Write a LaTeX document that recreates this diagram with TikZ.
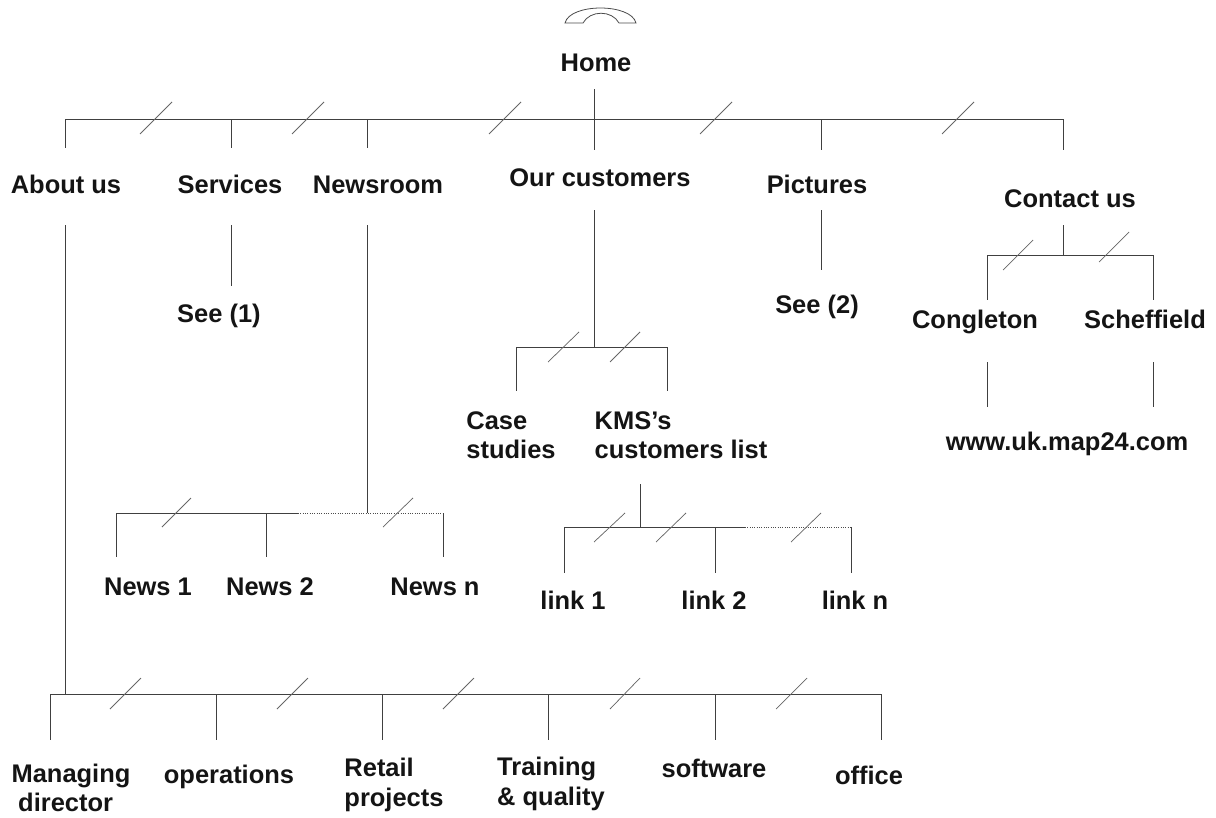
\documentclass[tikz,border=0pt]{standalone}
\usepackage{fontspec}
\setmainfont{Liberation Sans}
\begin{document}
\begin{tikzpicture}[x=0.75pt,y=-0.75pt,
  lbl/.style={font=\fontsize{19.1}{22}\selectfont\bfseries,inner sep=0pt,text=black!92},
  bl/.style={lbl,anchor=base},
  lin/.style={draw=black!75,line width=0.75pt},
  dot/.style={draw=black!70,line width=0.75pt,densely dotted},
  sl/.style={draw=black!60,line width=0.55pt}]
\useasboundingbox (0,0) rectangle (1216,817);
% Phone icon
\draw[draw=black!70,line width=0.6pt,fill=white] (565,23) .. controls (570,3) and (631,3) .. (636,23) -- (619,23) .. controls (612,10) and (590,10) .. (583,23) -- cycle;
% Labels
\node[bl] (home) at (596,71) {Home};
\node[bl] (about) at (66,193) {About us};
\node[bl] (services) at (230,193) {Services};
\node[bl] (newsroom) at (378,193) {Newsroom};
\node[bl] (customers) at (600,186) {Our customers};
\node[bl] (pictures) at (817,193) {Pictures};
\node[bl] (contact) at (1070,207) {Contact us};
\node[bl] (see1) at (219,322) {See (1)};
\node[bl] (see2) at (817,313) {See (2)};
\node[bl] (congleton) at (975,328) {Congleton};
\node[bl] (scheffield) at (1145,328) {Scheffield};
\node[bl] (map) at (1067,450) {www.uk.map24.com};
\node[lbl,align=left] (case) at (511,435) {Case\\studies};
\node[lbl,align=left] (kms) at (681,435) {KMS’s\\customers list};
\node[bl] (news1) at (148,595) {News 1};
\node[bl] (news2) at (270,595) {News 2};
\node[bl] (newsn) at (435,595) {News n};
\node[bl] (link1) at (573,609) {link 1};
\node[bl] (link2) at (714,609) {link 2};
\node[bl] (linkn) at (855,609) {link n};
\node[lbl,align=left] (md) at (71,788) {Managing\\\hspace*{5pt}director};
\node[bl] (ops) at (229,783) {operations};
\node[lbl,align=left] (retail) at (394,785) {Retail\\projects};
\node[lbl,align=left] (training) at (551,784) {Training\\\& quality};
\node[bl] (software) at (714,777) {software};
\node[bl] (office) at (869,784) {office};
% Named junctions and connector ends
\foreach \n/\x/\y in {homeB/594/89,homeJ/594/119,barL/65/119,barR/1063/119,
  aT/65/148,sJ/231/119,sT/231/148,nJ/367/119,nT/367/148,cT/594/150,pJ/821/119,pT/821/150,kT/1063/150,
  aB/65/225,aJ/65/694,mL/50/694,mR/881/694,
  m1/50/740,m2J/216/694,m2/216/740,m3J/382/694,m3/382/740,m4J/548/694,m4/548/740,m5J/715/694,m5/715/740,m6/881/740,
  sB/231/225,sE/231/286,
  nB/367/225,nJ2/367/513,nL/116/513,nM/298/513,nR/443/513,n1/116/557,n2J/266/513,n2/266/557,n3/443/557,
  cB/594/210,cJ/594/347,cL/516/347,cR/667/347,c1/516/391,c2/667/391,
  kB/640/484,kJ/640/527,kL/564/527,kM/745/527,kR/851/527,k1/564/573,k2J/715/527,k2/715/573,k3/851/573,
  pB/821/210,pE/821/270,
  ctB/1063/225,ctJ/1063/255,ctL/987/255,ctR/1153/255,ct1/987/300,ct2/1153/300,
  cgB/987/362,cgE/987/407,shB/1153/362,shE/1153/407}
  {\coordinate (\n) at (\x,\y);}
% Top level
\draw[lin] (homeB) -- (homeJ);
\draw[lin] (barL) -- (barR);
\draw[lin] (barL) -- (aT);
\draw[lin] (sJ) -- (sT);
\draw[lin] (nJ) -- (nT);
\draw[lin] (homeJ) -- (cT);
\draw[lin] (pJ) -- (pT);
\draw[lin] (barR) -- (kT);
% About us
\draw[lin] (aB) -- (aJ);
\draw[lin] (mL) -- (mR);
\draw[lin] (mL) -- (m1);
\draw[lin] (m2J) -- (m2);
\draw[lin] (m3J) -- (m3);
\draw[lin] (m4J) -- (m4);
\draw[lin] (m5J) -- (m5);
\draw[lin] (mR) -- (m6);
% Services
\draw[lin] (sB) -- (sE);
% Newsroom
\draw[lin] (nB) -- (nJ2);
\draw[lin] (nL) -- (nM);
\draw[dot] (nM) -- (nR);
\draw[lin] (nL) -- (n1);
\draw[lin] (n2J) -- (n2);
\draw[lin] (nR) -- (n3);
% Our customers
\draw[lin] (cB) -- (cJ);
\draw[lin] (cL) -- (cR);
\draw[lin] (cL) -- (c1);
\draw[lin] (cR) -- (c2);
% KMS
\draw[lin] (kB) -- (kJ);
\draw[lin] (kL) -- (kM);
\draw[dot] (kM) -- (kR);
\draw[lin] (kL) -- (k1);
\draw[lin] (k2J) -- (k2);
\draw[lin] (kR) -- (k3);
% Pictures
\draw[lin] (pB) -- (pE);
% Contact
\draw[lin] (ctB) -- (ctJ);
\draw[lin] (ctL) -- (ctR);
\draw[lin] (ctL) -- (ct1);
\draw[lin] (ctR) -- (ct2);
\draw[lin] (cgB) -- (cgE);
\draw[lin] (shB) -- (shE);
% Slashes
\foreach \xa/\ya/\xb/\yb in {140/134/172/102,292/134/324/102,489/134/521/102,700/134/732/102,942/134/974/102,
  110/709/141/678,277/709/308/678,443/709/474/678,610/709/640/678,776/709/807/678,
  162/527/191/498,383/527/413/498,
  548/362/579/332,610/362/640/332,
  594/542/625/513,656/542/686/513,791/542/821/513,
  1003/270/1033/240,1099/262/1129/232}
  {\draw[sl] (\xa,\ya) -- (\xb,\yb);}
\end{tikzpicture}
\end{document}
